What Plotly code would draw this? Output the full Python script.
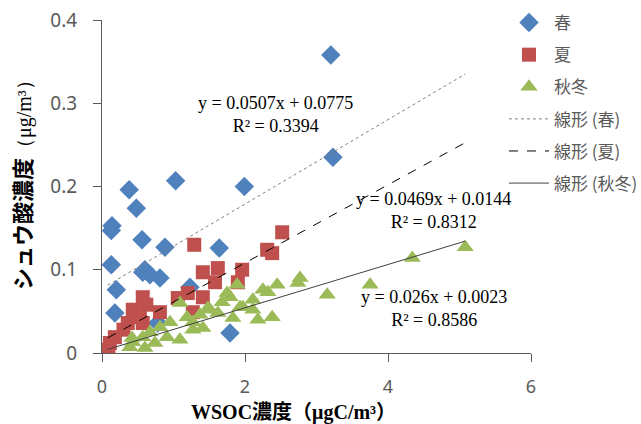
import plotly.graph_objects as go

# ---- data ----
spring_x = [3.20, 3.23, 1.03, 1.99, 0.38, 0.48, 0.14, 0.13, 0.56, 0.88, 1.64, 0.13, 0.57, 0.67, 0.81, 0.60, 0.20, 0.18, 1.79, 0.78, 1.23]
spring_y = [0.358, 0.235, 0.207, 0.200, 0.196, 0.174, 0.153, 0.147, 0.136, 0.127, 0.126, 0.106, 0.097, 0.094, 0.090, 0.100, 0.076, 0.048, 0.024, 0.036, 0.079]

summer_x = [2.52, 2.31, 2.38, 1.29, 1.41, 1.62, 1.58, 1.96, 1.90, 1.41, 1.20, 1.06, 1.27, 0.57, 0.81, 0.43, 0.53, 0.36, 0.57, 0.11, 0.18, 0.09, 0.30, 0.62]
summer_y = [0.145, 0.124, 0.120, 0.130, 0.097, 0.102, 0.085, 0.100, 0.085, 0.067, 0.072, 0.066, 0.049, 0.067, 0.049, 0.052, 0.043, 0.036, 0.036, 0.012, 0.019, 0.004, 0.028, 0.058]

autumn_x = [5.08, 4.34, 3.75, 3.15, 2.77, 2.74, 2.45, 2.32, 2.25, 1.89, 1.75, 1.68, 1.48, 1.09, 1.19, 1.27, 1.37, 1.62, 1.97,
            2.11, 2.18, 2.38, 2.11, 0.95, 0.81, 0.67, 0.57, 0.43, 0.39, 0.74, 0.91, 1.09, 1.27, 1.79, 1.51, 1.93, 1.83, 1.41, 0.60, 0.42]
autumn_y = [0.127, 0.114, 0.082, 0.070, 0.090, 0.084, 0.082, 0.073, 0.076, 0.082, 0.072, 0.061, 0.054, 0.060, 0.043, 0.037, 0.046, 0.048, 0.055,
            0.052, 0.040, 0.043, 0.064, 0.037, 0.031, 0.025, 0.019, 0.013, 0.007, 0.012, 0.019, 0.016, 0.028, 0.067, 0.052, 0.055, 0.042, 0.030, 0.006, 0.018]

series_names = ["春", "夏", "秋冬"]
trend_names = ["線形 (春)", "線形 (夏)", "線形 (秋冬)"]
slopes = [0.0507, 0.0469, 0.026]
intercepts = [0.0775, 0.0144, 0.0023]
r2 = ["0.3394", "0.8312", "0.8586"]
intercept_text = ["0.0775", "0.0144", "0.0023"]
trend_x_range = [0.08, 5.08]

x_ticks = [0, 2, 4, 6]
y_ticks = [0, 0.1, 0.2, 0.3, 0.4]

colors = ["#4F81BD", "#C0504D", "#9BBB59"]
symbols = ["diamond", "square", "triangle-up"]
dash_styles = ["dot", "dash", "solid"]
line_colors = ["#7f7f7f", "#000000", "#404040"]

fig = go.Figure()
for i, (xs, ys) in enumerate([(spring_x, spring_y), (summer_x, summer_y), (autumn_x, autumn_y)]):
    fig.add_trace(go.Scatter(
        x=xs, y=ys, mode="markers", name=series_names[i], legendgroup=f"g{i}",
        marker=dict(symbol=symbols[i], color=colors[i], size=15 if i != 1 else 14,
                    line=dict(width=0)),
    ))

for i in range(3):
    xs = trend_x_range
    ys = [slopes[i] * x + intercepts[i] for x in xs]
    fig.add_trace(go.Scatter(
        x=xs, y=ys, mode="lines", name=trend_names[i], legendgroup=f"t{i}",
        line=dict(color=line_colors[i], width=1, dash=dash_styles[i]),
    ))

# equation annotations
ann_pos = [(2.43, 0.287), (4.63, 0.171), (4.64, 0.053)]
for i in range(3):
    ax, ay = ann_pos[i]
    fig.add_annotation(
        x=ax, y=ay, xref="x", yref="y", showarrow=False, xanchor="center", yanchor="middle",
        text=f"y = {slopes[i]}x + {intercept_text[i]}<br>R² = {r2[i]}",
        font=dict(family="Liberation Serif, Times New Roman, serif", size=18, color="#000000"),
        align="center",
    )

# axis titles
fig.add_annotation(
    x=(293 - 102) / 429, y=(353 - 412) / 333, xref="paper", yref="paper", showarrow=False,
    xanchor="center", yanchor="middle",
    text="<b>WSOC濃度（μgC/m³）</b>",
    font=dict(family="Liberation Serif, Noto Sans CJK JP, serif", size=20, color="#000000"),
)
fig.add_annotation(
    x=(21 - 102) / 429, y=(353 - 180) / 333, xref="paper", yref="paper", showarrow=False, textangle=-90,
    xanchor="center", yanchor="middle",
    text="<b>シュウ酸濃度</b><span style='font-family:Liberation Serif;font-size:20px'>（μg/m³）</span>",
    font=dict(family="Noto Sans CJK JP, sans-serif", size=22, color="#000000"),
)

fig.update_xaxes(
    range=[0, 6], tickvals=x_ticks, ticktext=[str(v) for v in x_ticks],
    showgrid=False, zeroline=False, showline=True, linecolor="#595959", linewidth=1,
    ticks="outside", ticklen=8, tickcolor="#595959", ticklabelstandoff=9,
    tickfont=dict(family="Noto Sans, Open Sans, sans-serif", size=18, color="#595959"),
)
fig.update_yaxes(
    range=[0, 0.4], tickvals=y_ticks, ticktext=["0", "0.1", "0.2", "0.3", "0.4"],
    showgrid=False, zeroline=False, showline=True, linecolor="#595959", linewidth=1,
    ticks="outside", ticklen=8, tickcolor="#595959", ticklabelstandoff=12,
    tickfont=dict(family="Noto Sans, Open Sans, sans-serif", size=19, color="#595959"),
)

fig.update_layout(
    width=641, height=424,
    margin=dict(l=102, r=110, t=20, b=71, autoexpand=False),
    plot_bgcolor="white", paper_bgcolor="white",
    showlegend=True,
    legend=dict(
        x=0.937, y=1.045, xanchor="left", yanchor="top",
        font=dict(family="Noto Sans CJK JP, sans-serif", size=17, color="#595959"),
        bgcolor="rgba(0,0,0,0)", tracegroupgap=7, itemwidth=40,
    ),
)

fig.write_html(
    "out.html",
    config={"displayModeBar": False},
    post_script="document.body.style.margin='0';document.body.style.overflow='hidden';",
)
